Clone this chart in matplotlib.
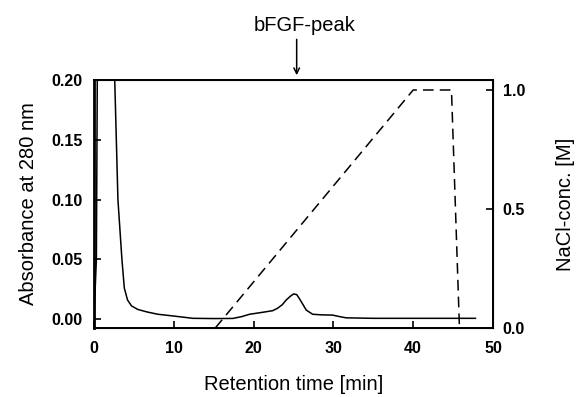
import matplotlib
matplotlib.use("Agg")
import matplotlib.pyplot as plt

plt.rcParams['font.family'] = ['Liberation Sans', 'DejaVu Sans']

# absorbance trace (A280), values above 0.20 are clipped by the axis
abs_time = [0.0, 0.3, 0.45, 2.5, 2.6, 3.0, 3.5, 3.8, 4.2, 4.7, 5.5, 6.6, 8.0, 10.0, 12.4,
            15.0, 17.4, 18.5, 19.5, 21.0, 22.4, 23.0, 23.6, 24.1, 24.6, 25.0, 25.4,
            25.75, 26.2, 26.6, 27.4, 28.5, 29.9, 30.8, 31.6, 35.0, 40.0, 45.0, 47.8]
absorbance = [0.0, 0.05, 0.25, 0.25, 0.2, 0.1, 0.05, 0.026, 0.016, 0.011, 0.008, 0.006,
              0.004, 0.0025, 0.0006, 0.0004, 0.0005, 0.002, 0.004, 0.0055, 0.007, 0.009,
              0.012, 0.016, 0.019, 0.021, 0.0205, 0.017, 0.012, 0.0075, 0.004, 0.0035,
              0.0033, 0.002, 0.001, 0.0006, 0.0006, 0.0006, 0.0006]

# NaCl gradient
nacl_time = [15.2, 40.0, 44.8, 45.8]
nacl_conc = [0.0, 1.0, 1.0, 0.0]

fig = plt.figure(figsize=(5.78, 3.97), dpi=100)
ax = fig.add_axes([0.1626, 0.1738, 0.6903, 0.6247])
ax.plot(abs_time, absorbance, color='black', lw=1.1)
ax.set_xlim(0, 50)
ax.set_ylim(-0.0075, 0.2)
ax.set_xticks([0, 10, 20, 30, 40, 50])
ax.set_yticks([0.0, 0.05, 0.10, 0.15, 0.20])
ax.set_yticklabels(['0.00', '0.05', '0.10', '0.15', '0.20'])
ax.tick_params(direction='in', length=5, width=1.2, labelsize=11.5)
ax.tick_params(axis='y', pad=8)
ax.tick_params(axis='x', pad=9)
for lab in ax.get_xticklabels() + ax.get_yticklabels():
    lab.set_fontweight('bold')
ax.set_xlabel('Retention time [min]', fontsize=14.5, labelpad=14)
ax.set_ylabel('Absorbance at 280 nm', fontsize=14.5, labelpad=10)
for s in ax.spines.values():
    s.set_linewidth(1.4)
ax.spines['left'].set_linewidth(2.0)

ax2 = ax.twinx()
ax2.plot(nacl_time, nacl_conc, color='black', lw=1.1, dashes=(7, 4))
ax2.set_ylim(0, 1.042)
ax2.set_yticks([0.0, 0.5, 1.0])
ax2.tick_params(direction='in', length=5, width=1.2, labelsize=11.5, pad=7)
for lab in ax2.get_yticklabels():
    lab.set_fontweight('bold')
ax2.set_ylabel('NaCl-conc. [M]', fontsize=14.5, labelpad=22)

ax.annotate('', xy=(25.4, 0.2 + 0.004), xytext=(25.4, 0.2 + 0.034), annotation_clip=False,
            arrowprops=dict(arrowstyle='->', color='black', lw=1.1, shrinkA=0, shrinkB=0))
ax.text(26.4, 0.2 + 0.041, 'bFGF-peak', ha='center', va='baseline', fontsize=14.5)

fig.savefig('out.png', dpi=100)
